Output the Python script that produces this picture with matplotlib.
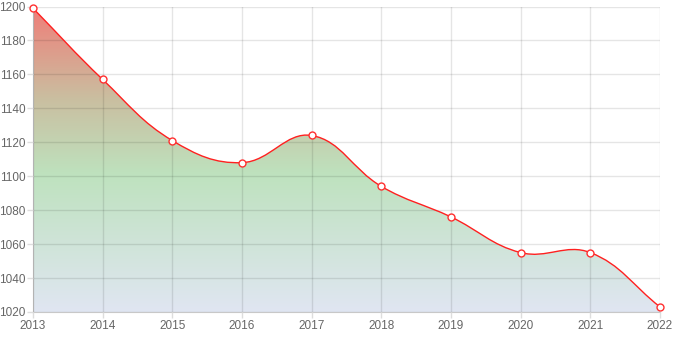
import numpy as np
import matplotlib
matplotlib.use("Agg")
import matplotlib.pyplot as plt
from matplotlib.path import Path
from matplotlib.patches import PathPatch
from matplotlib.colors import LinearSegmentedColormap

years = [2013, 2014, 2015, 2016, 2017, 2018, 2019, 2020, 2021, 2022]
values = [1199, 1157, 1121, 1108, 1124, 1094, 1076, 1055, 1055, 1023]
y_ticks = list(range(1020, 1201, 20))

plt.rcParams['font.family'] = ['Liberation Sans', 'DejaVu Sans']

fig = plt.figure(figsize=(6.74, 3.37), dpi=100)
ax = fig.add_axes([33 / 674, 25 / 337, 627 / 674, 305.5 / 337])
ax.set_xlim(years[0], years[-1])
ax.set_ylim(1020, 1200)

# chart.js style bezier (tension 0.4) computed in pixel space
tension = 0.4
pts = ax.transData.transform(np.column_stack([years, values]))
n = len(pts)
cps = []
for i in range(n):
    prev = pts[max(i - 1, 0)]
    cur = pts[i]
    nxt = pts[min(i + 1, n - 1)]
    d01 = np.hypot(*(cur - prev))
    d12 = np.hypot(*(nxt - cur))
    tot = d01 + d12
    s01 = d01 / tot if tot else 0
    s12 = d12 / tot if tot else 0
    cps.append((cur - tension * s01 * (nxt - prev), cur + tension * s12 * (nxt - prev)))

inv = ax.transData.inverted()
verts = [pts[0]]
codes = [Path.MOVETO]
for i in range(n - 1):
    verts += [cps[i][1], cps[i + 1][0], pts[i + 1]]
    codes += [Path.CURVE4] * 3
verts = inv.transform(np.array(verts))

line_path = Path(verts, codes)
fill_verts = np.vstack([verts, [[years[-1], 1020], [years[0], 1020], verts[0]]])
fill_codes = codes + [Path.LINETO, Path.LINETO, Path.CLOSEPOLY]
fill_path = Path(fill_verts, fill_codes)

cmap = LinearSegmentedColormap.from_list("g", [
    (0.0, (224 / 255, 230 / 255, 242 / 255)),
    (0.45, (190 / 255, 226 / 255, 190 / 255)),
    (0.7, (202 / 255, 190 / 255, 160 / 255)),
    (1.0, (240 / 255, 125 / 255, 120 / 255)),
])
grad = np.linspace(0, 1, 256).reshape(-1, 1)
im = ax.imshow(grad, cmap=cmap, origin="lower", aspect="auto",
               extent=[years[0], years[-1], 1020, 1200], zorder=1)
patch = PathPatch(fill_path, facecolor="none", edgecolor="none")
ax.add_patch(patch)
im.set_clip_path(patch)

ax.add_patch(PathPatch(line_path, facecolor="none", edgecolor="#ff2020", lw=1.0, zorder=3))
ax.plot(years, values, "o", ms=5, mfc="white", mec="#ff3030", mew=1.0, zorder=4, clip_on=False)

ax.set_xticks(years)
ax.set_yticks(y_ticks)
for s in ["top", "right"]:
    ax.spines[s].set_visible(False)
for s in ["left", "bottom"]:
    ax.spines[s].set_color("#c8c8c8")
    ax.spines[s].set_zorder(2)
ax.tick_params(colors="#dddddd", labelcolor="#666666", labelsize=8.5, length=4, width=1, pad=1.5)
ax.set_axisbelow(False)
ax.grid(True, color="black", alpha=0.1, lw=1, zorder=2)
ax.set_xlim(years[0], years[-1])
ax.set_ylim(1020, 1200)

fig.savefig("out.png", dpi=100)
